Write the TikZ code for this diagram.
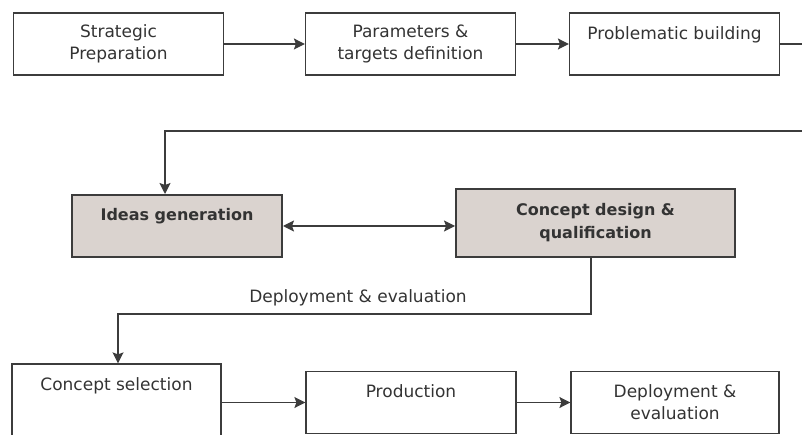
\documentclass[tikz,border=0pt]{standalone}
\usepackage{fontspec}
\setmainfont{DejaVu Sans}
\usepackage{xcolor}
\usetikzlibrary{positioning,calc,arrows.meta}
\definecolor{linegray}{HTML}{3C3C3C}
\definecolor{keyfill}{HTML}{DAD3CF}

\begin{document}
\begin{tikzpicture}[x=1pt, y=1pt,
    box/.style={draw=linegray, line width=1.2pt, minimum width=210pt, minimum height=62pt,
        align=center, inner sep=0pt, text=black!80, font=\fontsize{17}{22}\selectfont},
    keybox/.style={box, fill=keyfill, line width=2pt, font=\fontsize{16}{23}\selectfont\bfseries},
    flow/.style={draw=linegray, line width=1.2pt, -{Stealth[length=11pt,width=11pt,inset=2pt]}},
    twoway/.style={flow, {Stealth[length=11pt,width=11pt,inset=2pt]}-{Stealth[length=11pt,width=11pt,inset=2pt]}},
    plain/.style={draw=linegray, line width=1.2pt}
]
    \useasboundingbox (0,0) rectangle (802,-435);

    % Top row
    \node[box] (prep) at (118.5,-44) {Strategic\\Preparation};
    \node[box] (params) at (410.5,-44) {Parameters \&\\targets definition};
    \node[box] (problem) at (674.5,-44) {Problematic building\\ \mbox{}};
    \draw[flow] (prep) -- (params);
    \draw[flow] (params) -- (problem);
    \coordinate (exitR) at (802,-44);
    \coordinate (backR) at (802,-131);
    \draw[plain] (problem) -- (exitR);

    % Middle row
    \node[keybox] (ideas) at (177,-226) {Ideas generation\\ \mbox{}};
    \node[keybox, minimum width=279pt, minimum height=68pt] (design) at (595.5,-223) {Concept design \&\\qualification};
    \draw[flow] (backR) -| ([xshift=-12pt]ideas.north);
    \draw[twoway] (ideas.east) -- (ideas.east -| design.west);

    % Bottom row
    \node[box, minimum width=209pt, minimum height=84pt] (select) at (116.5,-406) {Concept selection\\ \mbox{}\\ \mbox{}};
    \node[box] (prod) at (411,-402.5) {Production\\ \mbox{}};
    \node[box, minimum width=208pt] (deploy) at (675,-402.5) {Deployment \&\\evaluation};
    \draw[flow] (select.east |- prod) -- (prod);
    \draw[flow] (prod) -- (deploy);

    % Feedback
    \draw[flow] ([xshift=-4.5pt]design.south) -- ++(0,-56) -| ([xshift=1.5pt]select.north);
    \node[text=black!80, font=\fontsize{17}{22}\selectfont] (deplabel) at (358,-298) {Deployment \& evaluation};
\end{tikzpicture}
\end{document}
